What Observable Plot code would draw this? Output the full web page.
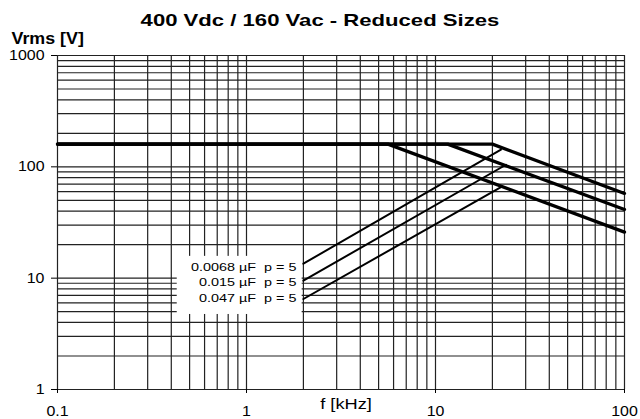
<!DOCTYPE html>
<html>
<head>
<meta charset="utf-8">
<script src="https://cdn.jsdelivr.net/npm/d3@7"></script>
<script src="https://cdn.jsdelivr.net/npm/@observablehq/plot@0.6"></script>
<style>
  body { margin: 0; background: #fff; width: 640px; height: 419px; overflow: hidden; position: relative; }
  #title { position: absolute; left: 0; top: 0; width: 640px; font-family: "Liberation Sans", Arial, sans-serif;
           font-weight: bold; font-size: 17px; text-align: center; padding-top: 11px; line-height: 20px; color: #000; z-index: 2; }
  #title span { display: inline-block; transform: scaleX(1.3); transform-origin: center; }
  #chart { position: absolute; left: 0; top: 24px; }
  svg { display: block; overflow: visible; }
</style>
</head>
<body>
<div id="title"><span>400 Vdc / 160 Vac - Reduced Sizes</span></div>
<div id="chart"></div>
<script>
// ---- data ----
const capacitances = ["0.0068 µF\u00a0 p = 5", "0.015 µF\u00a0 p = 5", "0.047 µF\u00a0 p = 5"];
const startFreq = 0.1;          // kHz
const endFreq = 100;            // kHz
const flatVrms = 160;           // V
const cornerFreq = [20, 11.6, 5.6];     // kHz, end of flat part
const endVrms = [57.7, 41.4, 25.9];     // V at 100 kHz
const riseStartFreq = [2, 2, 2];
const riseStartVrms = [13.5, 9.5, 6.5];
const riseEndFreq = [22.2, 23.6, 22.2];
const riseEndVrms = [142.5, 104.4, 65.7];
const labelVrms = [12.6, 9.15, 6.57];
const labelFreq = 2;
const labelBox = [{x1: 0.43, x2: 1.97, y1: 4.72, y2: 15.7}];

const xTicks = [0.1, 1, 10, 100];
const yTicks = [1, 10, 100, 1000];
const xGrid = [0.1,0.2,0.3,0.4,0.5,0.6,0.7,0.8,0.9,1,2,3,4,5,6,7,8,9,10,20,30,40,50,60,70,80,90,100];
const yGrid = [1,2,3,4,5,6,7,8,9,10,20,30,40,50,60,70,80,90,100,200,300,400,500,600,700,800,900,1000];

// ---- tables ----
const thick = capacitances.flatMap((c, i) => [
  {c, f: startFreq, v: flatVrms},
  {c, f: cornerFreq[i], v: flatVrms},
  {c, f: endFreq, v: endVrms[i]}
]);
const thin = capacitances.flatMap((c, i) => [
  {c, f: riseStartFreq[i], v: riseStartVrms[i]},
  {c, f: riseEndFreq[i], v: riseEndVrms[i]}
]);
const labels = capacitances.map((c, i) => ({c, f: labelFreq, v: labelVrms[i]}));

const gridColor = "#222";

const chart = Plot.plot({
  width: 640,
  height: 395,
  marginTop: 31,
  marginBottom: 30,
  marginLeft: 57,
  marginRight: 16,
  style: {fontFamily: "'Liberation Sans', Arial, sans-serif", fontSize: "14.5px", color: "#000", background: "transparent"},
  x: {type: "log", domain: [0.1, 100]},
  y: {type: "log", domain: [1, 1000]},
  marks: [
    Plot.ruleX(xGrid, {stroke: gridColor, strokeWidth: 1.2, strokeOpacity: 1}),
    Plot.ruleY(yGrid, {stroke: gridColor, strokeWidth: 1.2, strokeOpacity: 1}),
    Plot.rect(labelBox, {x1: "x1", x2: "x2", y1: "y1", y2: "y2", fill: "white"}),
    Plot.line(thin, {x: "f", y: "v", z: "c", stroke: "#000", strokeWidth: 2}),
    Plot.line(thick, {x: "f", y: "v", z: "c", stroke: "#000", strokeWidth: 3.3}),
    Plot.text(labels, {x: "f", y: "v", text: "c", textAnchor: "end", dx: -7, fontSize: 11.5, fill: "#000"}),
    Plot.axisX({ticks: xTicks, tickFormat: d => String(d), tickSize: 4, tickPadding: 12.5, label: null, stroke: "#000"}),
    Plot.axisY({ticks: yTicks, tickFormat: d => String(d), tickSize: 6, tickPadding: 7, label: null, stroke: "#000"}),
    Plot.text(["Vrms [V]"], {frameAnchor: "top-left", textAnchor: "start", lineAnchor: "bottom", dx: -46, dy: -12, fontWeight: "bold", fontSize: 17}),
    Plot.text(["f [kHz]"], {frameAnchor: "bottom", lineAnchor: "bottom", dx: 5, dy: 19, fontSize: 14})
  ]
});
document.getElementById("chart").append(chart);

// horizontal stretch of texts, as in the reference rendering
chart.querySelectorAll("text").forEach(t => {
  const s = t.textContent;
  let k = 1.1;
  if (s.includes("µF")) k = 1.25;
  else if (s.includes("kHz")) k = 1.3;
  else if (s.includes("Vrms")) k = 1.05;
  const w = t.getComputedTextLength();
  if (w > 0) {
    t.setAttribute("textLength", (w * k).toFixed(2));
    t.setAttribute("lengthAdjust", "spacingAndGlyphs");
  }
});
</script>
</body>
</html>
